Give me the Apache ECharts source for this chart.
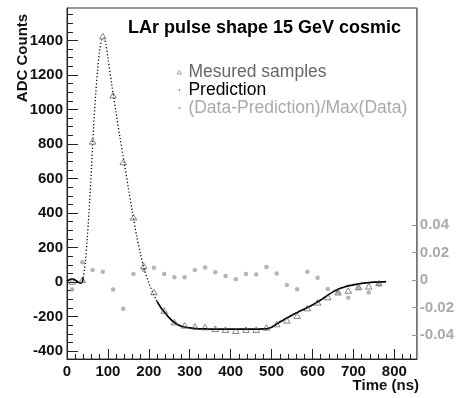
<!DOCTYPE html>
<html>
<head>
<meta charset="utf-8">
<script src="https://cdn.jsdelivr.net/npm/echarts@6/dist/echarts.min.js"></script>
<style>
  html, body { margin: 0; padding: 0; background: #fff; }
  #chart { width: 457px; height: 398px; }
</style>
</head>
<body>
<div id="chart"></div>
<script>
// ---- Data ----
const predTime = [0,5,10,15,20,25,30,35,40,45,50,55,60,65,70,75,80,85,90,95,100,
  110,120,130,140,150,160,170,180,190,200,210,220,230,240,250,260,270,280,290,300,310,320,
  340,360,380,400,420,440,460,480,
  490,500,510,520,530,540,550,560,570,580,590,600,610,620,630,640,650,660,670,680,690,700,710,720,730,740,750,760,770,780];
const predADC = [5,12,17,17,11,3,-4,-5,25,120,270,450,670,900,1085,1235,1345,1405,1415,1375,1300,
  1135,980,830,690,545,405,270,160,65,-5,-62,-112,-150,-180,-208,-230,-246,-256,-262,-266,-269,-271,
  -272,-273,-273,-273,-273,-273,-273,-272,
  -270,-262,-247,-232,-218,-205,-192,-180,-168,-157,-145,-133,-119,-104,-88,-72,-57,-45,-35,-27,-21,-16,-12,-8,-5,-3,-1,0,1,2];

const sampleTime = [12.5,37.5,62.5,87.5,112.5,137.5,162.5,187.5,212.5,237.5,262.5,287.5,312.5,337.5,362.5,
  387.5,412.5,437.5,462.5,487.5,512.5,537.5,562.5,587.5,612.5,637.5,662.5,687.5,712.5,737.5,762.5];
const sampleADC = [3,13,815,1425,1082,696,375,94,-58,-165,-232,-251,-257,-261,-271,
  -276,-282,-276,-276,-263,-243,-222,-195,-151,-118,-87,-59,-49,-29,-25,-6];
const residual = [-0.0068,0.0129,0.0073,0.006,-0.0068,-0.0209,0.0044,0.0073,0.0089,0.0044,0.002,0.002,0.0073,0.0092,0.0056,
  0.0029,0.0005,0.0044,0.004,0.0095,0.0048,-0.0036,-0.0066,0.006,0.0017,-0.0065,-0.009,-0.0128,-0.0056,-0.0091,-0.003];

const xMajor = [0,100,200,300,400,500,600,700,800];
const yMajor = [-400,-200,0,200,400,600,800,1000,1200,1400];
const rTicks = [-0.04,-0.02,0,0.02,0.04];

const titleText = 'LAr pulse shape 15 GeV cosmic';
const legendNames = ['Mesured samples', 'Prediction', '(Data-Prediction)/Max(Data)'];

// ---- derived ----
const xMinor = [];
for (let v = 0; v <= 850; v += 20) if (v % 100 !== 0) xMinor.push(v);
const yMinor = [];
for (let v = -400; v <= 1550; v += 50) if (v % 200 !== 0) yMinor.push(v);

const steepFrom = 40, steepTo = 220;
const predSolid = predTime.map((t, i) => (t <= steepFrom || t >= steepTo) ? [t, predADC[i]] : [t, null]);
const predDotted = predTime.map((t, i) => (t >= steepFrom && t <= steepTo) ? [t, predADC[i]] : [t, null]);
const samples = sampleTime.map((t, i) => [t, sampleADC[i]]);
const resid = sampleTime.map((t, i) => [t, residual[i]]);

const FONT = "'Liberation Sans', Arial, Helvetica, sans-serif";
const chart = echarts.init(document.getElementById('chart'), null, { renderer: 'canvas' });

const X0 = 0, X1 = 855, Y0 = -446, Y1 = 1588, R0 = -0.05745, R1 = 0.198;
const plain = v => String(v);

chart.setOption({
  animation: false,
  backgroundColor: '#fff',
  title: {
    text: titleText, left: 128, top: 19, padding: 0,
    textStyle: { fontFamily: FONT, fontSize: 18, fontWeight: 'bold', color: '#000' }
  },
  legend: {
    orient: 'vertical', left: 170, top: 58, itemWidth: 8, itemHeight: 8, itemGap: 0,
    selectedMode: false,
    textStyle: { fontFamily: FONT, fontSize: 17.5, lineHeight: 17.5 },
    data: [
      { name: legendNames[0], icon: 'path://M0,0 M10,10 M5,3 L7.6,7.6 L2.4,7.6 Z',
        itemStyle: { color: 'rgba(0,0,0,0)', borderColor: '#777', borderWidth: 0.8 },
        textStyle: { color: '#666' } },
      { name: legendNames[1], icon: 'path://M0,0 M10,10 M4.3,4.3 L5.7,4.3 L5.7,5.7 L4.3,5.7 Z',
        itemStyle: { color: '#000', borderWidth: 0 }, textStyle: { color: '#000' } },
      { name: legendNames[2], icon: 'path://M0,0 M10,10 M3.6,3.6 L6.4,3.6 L6.4,6.4 L3.6,6.4 Z',
        itemStyle: { color: '#aaa', borderWidth: 0 }, textStyle: { color: '#aaa' } }
    ]
  },
  grid: { left: 67, right: 36, top: 8, bottom: 39, show: true, borderColor: '#333', borderWidth: 1, backgroundColor: 'rgba(0,0,0,0)' },
  xAxis: [
    { type: 'value', min: X0, max: X1, position: 'bottom',
      axisLine: { onZero: false, lineStyle: { color: '#222', width: 1 } },
      axisTick: { customValues: xMajor, inside: true, length: 10, lineStyle: { color: '#222' } },
      axisLabel: { customValues: xMajor, margin: 5, fontFamily: FONT, fontSize: 15, fontWeight: 'bold', color: '#111', formatter: plain },
      splitLine: { show: false } },
    { type: 'value', min: X0, max: X1, position: 'bottom', offset: 0,
      axisLine: { show: false, onZero: false },
      axisTick: { customValues: xMinor, inside: true, length: 5, lineStyle: { color: '#222' } },
      axisLabel: { show: false }, splitLine: { show: false } }
  ],
  yAxis: [
    { type: 'value', min: Y0, max: Y1, position: 'left',
      axisLine: { show: true, onZero: false, lineStyle: { color: '#222', width: 1 } },
      axisTick: { customValues: yMajor, inside: true, length: 11, lineStyle: { color: '#222' } },
      axisLabel: { customValues: yMajor, margin: 4, fontFamily: FONT, fontSize: 15, fontWeight: 'bold', color: '#111', formatter: plain },
      splitLine: { show: false } },
    { type: 'value', min: Y0, max: Y1, position: 'left', offset: 0,
      axisLine: { show: false, onZero: false },
      axisTick: { customValues: yMinor, inside: true, length: 6, lineStyle: { color: '#222' } },
      axisLabel: { show: false }, splitLine: { show: false } },
    { type: 'value', min: R0, max: R1, position: 'right', offset: 0,
      axisLine: { show: true, onZero: false, lineStyle: { color: '#999', width: 1.2 } },
      axisTick: { customValues: rTicks, inside: true, length: 5, lineStyle: { color: '#999' } },
      axisLabel: { customValues: rTicks, margin: 3, fontFamily: FONT, fontSize: 15, fontWeight: 'bold', color: '#aaa',
        formatter: v => (v === 0 ? '0' : String(Math.round(v * 100) / 100)) },
      splitLine: { show: false } }
  ],
  series: [
    { name: legendNames[2], type: 'scatter', xAxisIndex: 0, yAxisIndex: 2, data: resid,
      symbol: 'circle', symbolSize: 4.5, itemStyle: { color: '#a3a3a3' }, z: 2 },
    { name: legendNames[1], type: 'line', xAxisIndex: 0, yAxisIndex: 0, data: predSolid,
      showSymbol: false, smooth: 0.3, connectNulls: false,
      lineStyle: { color: '#000', width: 1.7 }, z: 3 },
    { name: legendNames[1], type: 'line', xAxisIndex: 0, yAxisIndex: 0, data: predDotted,
      showSymbol: false, smooth: 0.3, connectNulls: false,
      lineStyle: { color: '#000', width: 1.3, type: [1.2, 2.2] }, z: 3 },
    { name: legendNames[0], type: 'scatter', xAxisIndex: 0, yAxisIndex: 0, data: samples,
      symbol: 'triangle', symbolSize: [6.5, 5.5],
      itemStyle: { color: 'rgba(0,0,0,0)', borderColor: '#555', borderWidth: 0.9 }, z: 4 }
  ],
  graphic: [
    { type: 'text', x: 23, y: 58, rotation: Math.PI / 2,
      style: { text: 'ADC Counts', fontFamily: FONT, fontSize: 15, fontWeight: 'bold', fill: '#111',
        textAlign: 'center', textVerticalAlign: 'middle' } },
    { type: 'text', x: 419, y: 386,
      style: { text: 'Time (ns)', fontFamily: FONT, fontSize: 15, fontWeight: 'bold', fill: '#111',
        textAlign: 'right', textVerticalAlign: 'middle' } }
  ]
});
</script>
</body>
</html>
